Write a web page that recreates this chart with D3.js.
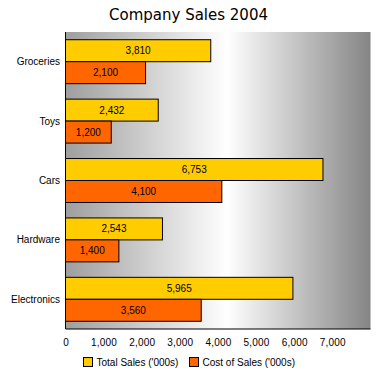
<!DOCTYPE html>
<html><head><meta charset="utf-8">
<script src="https://cdn.jsdelivr.net/npm/d3@7"></script>
<style>body{margin:0;background:#fff;}svg{display:block;}</style>
</head><body>
<script>
const categories = ["Groceries","Toys","Cars","Hardware","Electronics"];
const totalSales = [3810, 2432, 6753, 2543, 5965];
const costOfSales = [2100, 1200, 4100, 1400, 3560];
const seriesNames = ["Total Sales ('000s)", "Cost of Sales ('000s)"];
const seriesColors = ["#FFCC00", "#FF6600"];
const xTicks = [0,1000,2000,3000,4000,5000,6000,7000];
const title = "Company Sales 2004";

const W = 385, H = 379;
const m = {left: 65.5, right: 370.5, top: 32, bottom: 329};
const font = "'Liberation Sans', Arial, sans-serif";

const svg = d3.select("body").append("svg").attr("width", W).attr("height", H);

const defs = svg.append("defs");
const grad = defs.append("linearGradient").attr("id","bg").attr("x1","0").attr("x2","1").attr("y1","0").attr("y2","0");
grad.append("stop").attr("offset","0").attr("stop-color","#9e9e9e");
grad.append("stop").attr("offset","0.53").attr("stop-color","#ffffff");
grad.append("stop").attr("offset","1").attr("stop-color","#858585");

const x = d3.scaleLinear().domain([0, 8000]).range([m.left, m.right]);
const y = d3.scaleBand().domain(categories).range([m.top, m.bottom]).paddingInner(0.26).paddingOuter(0.13);
const ys = d3.scaleBand().domain([0,1]).range([0, y.bandwidth()]);

svg.append("rect").attr("x", m.left).attr("y", m.top).attr("width", m.right - m.left).attr("height", m.bottom - m.top).attr("fill","url(#bg)");

svg.append("text").attr("x", 188.5).attr("y", 20).attr("text-anchor","middle")
  .attr("font-family","'DejaVu Sans', Verdana, sans-serif").attr("font-size", 15).attr("fill","#000").text(title);

const data = categories.map((c,i)=>({cat:c, vals:[totalSales[i], costOfSales[i]]}));

const g = svg.append("g");
data.forEach(d=>{
  d.vals.forEach((v,si)=>{
    const yy = y(d.cat) + ys(si);
    g.append("rect").attr("x", x(0)).attr("y", yy).attr("width", x(v)-x(0)).attr("height", ys.bandwidth())
      .attr("fill", seriesColors[si]).attr("stroke","#000").attr("stroke-width",1);
    g.append("text").attr("x", (x(0)+x(v))/2).attr("y", yy + ys.bandwidth()/2 + 3.5)
      .attr("text-anchor","middle").attr("font-family",font).attr("font-size",10).attr("fill","#000")
      .text(d3.format(",")(v));
  });
});

// category labels
svg.append("g").selectAll("text").data(categories).join("text")
  .attr("x", 60).attr("y", d=>y(d)+y.bandwidth()/2+3.5).attr("text-anchor","end")
  .attr("font-family",font).attr("font-size",10).attr("fill","#000").text(d=>d);

// axes lines
svg.append("line").attr("x1", m.left).attr("x2", m.left).attr("y1", m.top).attr("y2", m.bottom).attr("stroke","#000");
svg.append("line").attr("x1", m.left).attr("x2", m.right).attr("y1", m.bottom).attr("y2", m.bottom).attr("stroke","#000");

const xAxis = d3.axisBottom(x).tickValues(xTicks).tickSize(0).tickPadding(10).tickFormat(d3.format(","));
const ax = svg.append("g").attr("transform",`translate(0,${m.bottom})`).call(xAxis);
ax.select(".domain").remove();
ax.selectAll("text").attr("font-family",font).attr("font-size",10).attr("letter-spacing",0.2).attr("fill","#000");

// legend
const lg = svg.append("g");
const lx = [83.5, 189.5];
seriesNames.forEach((n,i)=>{
  lg.append("rect").attr("x", lx[i]).attr("y", 357.5).attr("width", 9).attr("height", 9)
    .attr("fill", seriesColors[i]).attr("stroke","#000");
  lg.append("text").attr("x", lx[i]+13).attr("y", 366).attr("font-family",font).attr("font-size",10)
    .attr("fill","#000").text(n);
});
</script>
</body></html>
